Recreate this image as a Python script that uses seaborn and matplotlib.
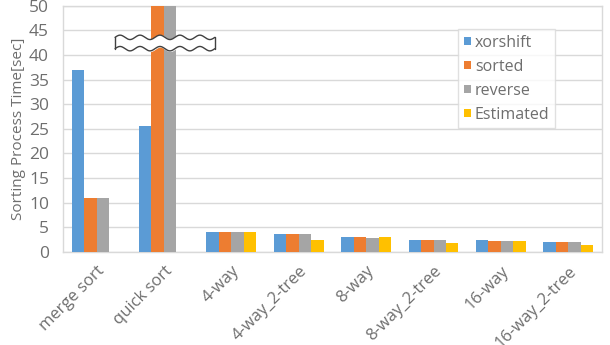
import numpy as np
import pandas as pd
import seaborn as sns
import matplotlib.pyplot as plt

# chart data
algorithms = ["merge sort", "quick sort", "4-way", "4-way_2-tree", "8-way",
              "8-way_2-tree", "16-way", "16-way_2-tree"]
series_names = ["xorshift", "sorted", "reverse", "Estimated"]
xorshift = [37.0, 25.5, 4.1, 3.7, 2.95, 2.4, 2.45, 1.95]
sorted_vals = [11.0, 60.0, 4.1, 3.7, 2.95, 2.4, 2.2, 1.95]   # quick sort goes off the scale
reverse = [11.0, 60.0, 4.1, 3.65, 2.9, 2.4, 2.2, 1.95]
estimated = [np.nan, np.nan, 4.1, 2.45, 2.95, 1.7, 2.2, 1.3]
colors = ["#5B9BD5", "#ED7D31", "#A5A5A5", "#FFC000"]

rows = []
for name, vals in zip(series_names, [xorshift, sorted_vals, reverse, estimated]):
    for algo, v in zip(algorithms, vals):
        rows.append({"algorithm": algo, "series": name, "time": v})
df = pd.DataFrame(rows)

sns.set_style("white")
plt.rcParams['font.family'] = ['Open Sans', 'DejaVu Sans']
txt = "#6E6E6E"

fig = plt.figure(figsize=(6.1, 3.45), dpi=100)
ax = fig.add_axes([0.103, 0.27, 0.884, 0.713])

sns.barplot(data=df, x="algorithm", y="time", hue="series", palette=colors,
            width=0.74, saturation=1, ax=ax, order=algorithms,
            hue_order=series_names, errorbar=None, zorder=3, linewidth=0)

ax.set_ylim(0, 50)
ax.set_yticks(range(0, 51, 5))
ax.set_xlim(-0.5, len(algorithms) - 0.5)
ax.yaxis.grid(True, color="#D9D9D9", linewidth=1, zorder=0)
ax.set_axisbelow(True)
for s in ax.spines.values():
    s.set_color("#D9D9D9")
    s.set_linewidth(1)

ax.set_xlabel("")
ax.set_ylabel("Sorting Process Time[sec]", color=txt, fontsize=11, labelpad=2)
ax.tick_params(axis="y", colors=txt, labelsize=12.5, length=0, pad=10)
ax.tick_params(axis="x", colors=txt, length=0, pad=8)
plt.setp(ax.get_xticklabels(), rotation=45, ha="right", rotation_mode="anchor",
         fontsize=12, color=txt)

# axis break marker on the quick sort bars
bx = np.linspace(0.275, 1.755, 300)
wave = 0.45 * np.sin((bx - 0.275) / 0.296 * 2 * np.pi)
top = 43.6 + wave
bot = 41.3 + wave
ax.fill_between(bx, bot, top, color="white", zorder=5)
ax.plot(bx, top, color="#404040", lw=1, zorder=6)
ax.plot(bx, bot, color="#404040", lw=1, zorder=6)
ax.plot([bx[0], bx[0]], [bot[0], top[0]], color="#404040", lw=1, zorder=6)
ax.plot([bx[-1], bx[-1]], [bot[-1], top[-1]], color="#404040", lw=1, zorder=6)

leg = ax.legend(loc="upper left", bbox_to_anchor=(0.733, 0.905), frameon=True,
                fontsize=11.5, handlelength=0.45, handleheight=0.45,
                handletextpad=0.25, labelspacing=0.5, borderpad=0.35,
                borderaxespad=0, fancybox=False)
leg.get_frame().set_edgecolor("#D9D9D9")
for t in leg.get_texts():
    t.set_color(txt)

fig.savefig("out.png", dpi=100)
